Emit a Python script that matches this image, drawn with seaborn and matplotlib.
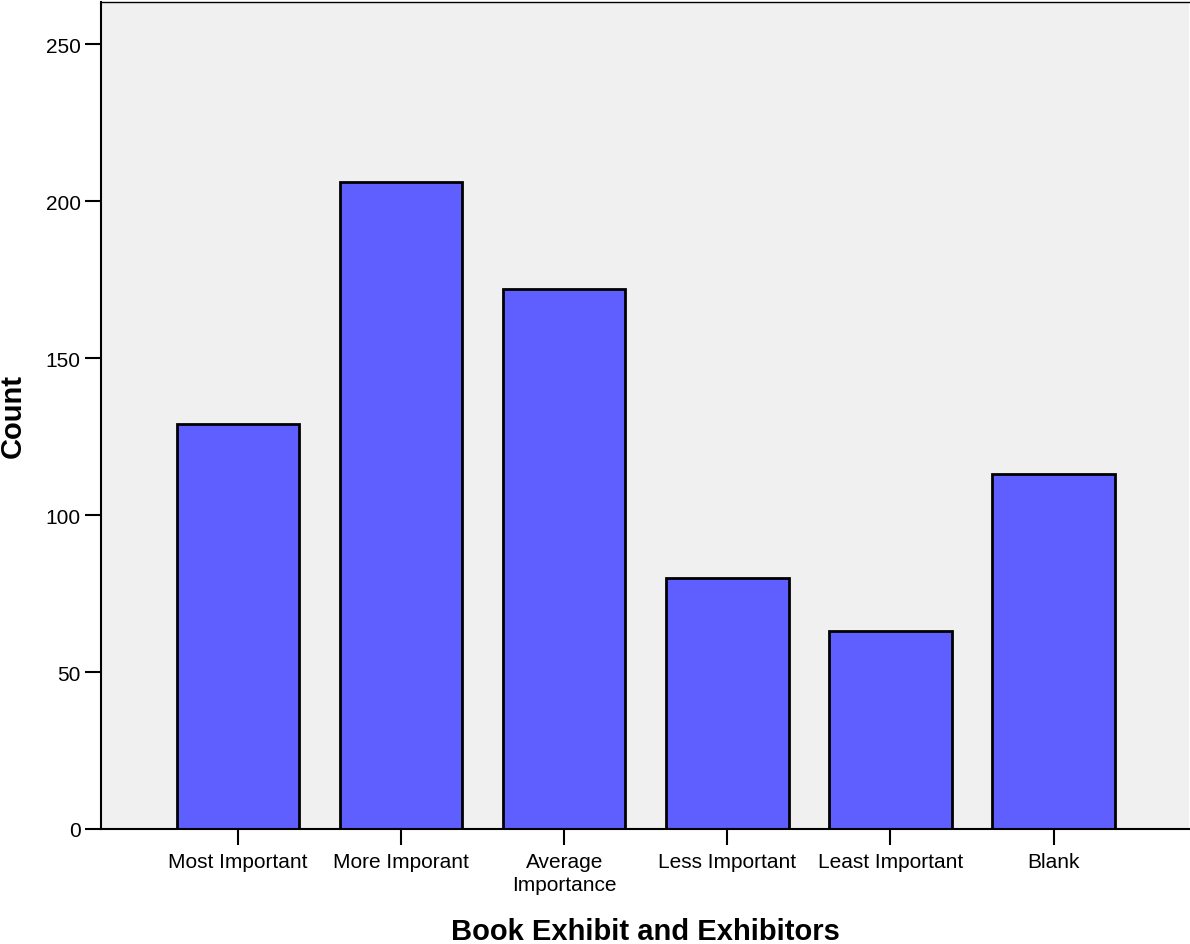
import matplotlib
matplotlib.use("Agg")
import matplotlib.pyplot as plt
import seaborn as sns
import pandas as pd

categories = ["Most Important", "More Imporant", "Average\nImportance",
              "Less Important", "Least Important", "Blank"]
counts = [129, 206, 172, 80, 63, 113]
yticks = [0, 50, 100, 150, 200, 250]

sns.set_theme(style="white")
plt.rcParams['font.family'] = ['Liberation Sans', 'DejaVu Sans']
plt.rcParams['text.color'] = 'black'
plt.rcParams['axes.labelcolor'] = 'black'
plt.rcParams['xtick.color'] = 'black'
plt.rcParams['ytick.color'] = 'black'

df = pd.DataFrame({"cat": categories, "count": counts})

fig = plt.figure(figsize=(11.9, 9.45), dpi=100)
ax = fig.add_axes([101/1190, 115/945, 1088/1190, 827/945])
ax.set_facecolor("#F0F0F0")

sns.barplot(data=df, x="cat", y="count", color="#5F5FFF", saturation=1,
            width=0.75, edgecolor="black", linewidth=2, ax=ax)

ax.set_xlim(-0.84, 5.83)
ax.set_ylim(0, 263.4)
ax.set_yticks(yticks)
ax.set_yticklabels([str(v) for v in yticks], fontsize=15)
ax.set_xticks(range(len(categories)))
ax.set_xticklabels(categories, fontsize=15, linespacing=1.3)
ax.tick_params(axis="both", direction="out", length=11.5, width=1.5,
               bottom=True, left=True, pad=3)
ax.tick_params(axis="x", pad=5)
ax.set_xlabel("Book Exhibit and Exhibitors", fontsize=21, fontweight="bold", labelpad=16)
ax.set_ylabel("Count", fontsize=21, fontweight="bold", labelpad=14)

for side in ["left", "bottom"]:
    ax.spines[side].set_color("black")
    ax.spines[side].set_linewidth(1.5)
ax.spines["top"].set_color("black")
ax.spines["top"].set_linewidth(1)
ax.spines["right"].set_visible(False)

fig.savefig("out.png", dpi=100)
